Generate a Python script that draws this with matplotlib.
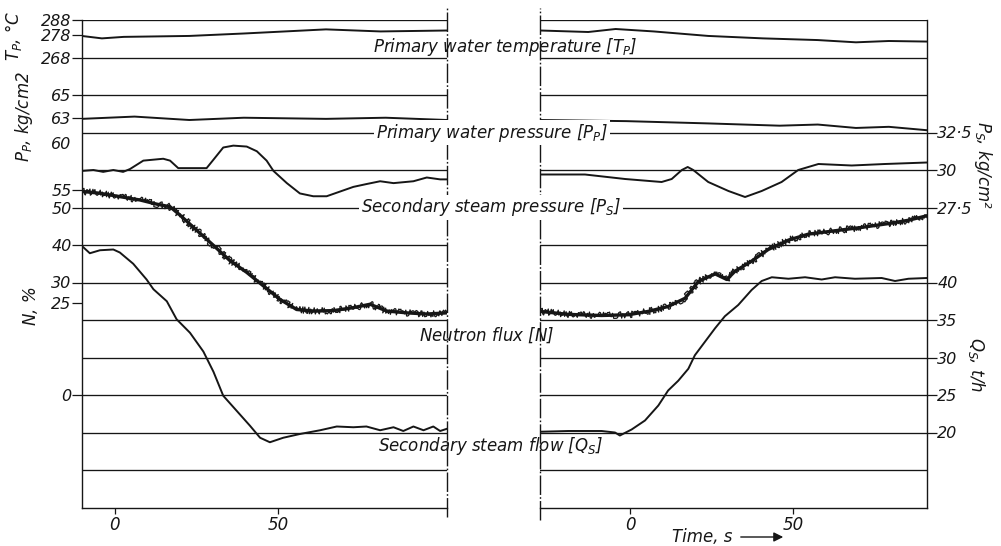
import matplotlib
matplotlib.use('Agg')
import matplotlib.pyplot as plt
from matplotlib.lines import Line2D
from matplotlib.patches import FancyArrowPatch
from matplotlib import transforms

plt.rcParams['font.family'] = ['DejaVu Sans']
plt.rcParams['mathtext.fontset'] = 'custom'
plt.rcParams['mathtext.it'] = 'DejaVu Sans:italic'
plt.rcParams['mathtext.rm'] = 'DejaVu Sans:italic'

# ---------------- data ----------------
# Left run
tp_left_t = [-10.2, -4.0, 2.7, 22.8, 39.5, 64.7, 81.4, 101.8]
tp_left = [279.5, 278.2, 279.0, 279.5, 280.8, 283.0, 281.9, 282.4]

pp_left_t = [-10.2, 6.0, 22.8, 39.5, 64.7, 83.0, 101.8]
pp_left = [62.9, 63.1, 62.8, 63.0, 62.9, 63.0, 62.8]

ps_left_t = [-10.2, -6.6, -3.6, -0.5, 2.5, 4.6, 8.7, 14.8, 16.9, 19.4, 28.1, 30.2,
             33.2, 36.3, 40.4, 43.5, 46.5, 48.6, 52.7, 56.7, 60.8, 64.9, 69.0,
             73.1, 77.1, 81.3, 85.4, 91.5, 95.6, 99.7, 101.8]
ps_left = [56.9, 57.0, 56.8, 57.0, 56.8, 57.1, 58.0, 58.2, 58.0, 57.2, 57.2, 58.1,
           59.4, 59.6, 59.5, 59.0, 58.0, 56.9, 55.6, 54.5, 54.2, 54.2, 54.7,
           55.2, 55.5, 55.8, 55.6, 55.8, 56.2, 56.0, 56.0]

n_left_t = [-10.2, -4.6, 1.5, 7.7, 12.8, 16.9, 19.9, 25.1, 30.2, 35.3, 40.4, 45.5,
            50.6, 55.7, 60.8, 67.0, 73.1, 78.2, 83.3, 89.5, 95.6, 101.8]
n_left = [54.3, 53.8, 52.9, 52.0, 50.9, 50.2, 48.0, 43.9, 39.9, 35.8, 32.7, 29.1,
          25.5, 22.8, 22.4, 22.5, 23.3, 24.2, 22.4, 21.9, 21.6, 21.9]

qs_left_t = [-10.2, -7.7, -4.6, -0.5, 1.5, 5.6, 9.7, 11.8, 15.9, 18.9, 23.0, 27.1,
             30.2, 33.2, 37.3, 41.4, 44.5, 47.5, 51.6, 56.7, 62.9, 68.0, 73.1,
             77.1, 81.3, 85.4, 88.4, 91.5, 94.6, 97.6, 99.7, 101.8]
qs_left = [44.9, 43.9, 44.3, 44.4, 44.0, 42.5, 40.4, 39.1, 37.5, 35.1, 33.3, 30.8,
           28.1, 24.9, 22.9, 20.9, 19.3, 18.7, 19.3, 19.8, 20.3, 20.8, 20.7,
           20.8, 20.3, 20.7, 20.2, 20.8, 20.3, 20.8, 20.2, 20.5]

# Right run
tp_right_t = [-27.6, -12.8, -4.4, 7.3, 24.0, 40.8, 57.6, 69.3, 79.4, 91.1]
tp_right = [282.4, 281.6, 283.2, 281.9, 279.5, 278.2, 277.3, 276.1, 276.8, 276.5]

pp_right_t = [-27.6, -1.1, 24.0, 45.9, 57.6, 69.3, 79.4, 91.1]
pp_right = [62.8, 62.7, 62.5, 62.3, 62.4, 62.1, 62.2, 61.9]

ps_right_t = [-27.6, -13.8, -1.5, 9.7, 12.8, 15.9, 17.7, 19.4, 24.0, 30.2, 35.3,
              40.4, 46.5, 51.6, 57.8, 68.0, 78.2, 91.1]
ps_right = [29.7, 29.7, 29.4, 29.2, 29.4, 30.0, 30.2, 30.0, 29.2, 28.6, 28.2,
            28.6, 29.2, 30.0, 30.4, 30.3, 30.4, 30.5]

n_right_t = [-27.6, -18.9, -8.7, -0.5, 5.6, 11.7, 16.9, 21.0, 26.1, 29.7, 32.2,
             37.3, 42.4, 48.6, 54.7, 62.9, 71.1, 79.2, 85.4, 91.1]
n_right = [22.3, 21.5, 21.2, 21.4, 22.3, 23.6, 25.8, 30.3, 32.3, 30.8, 33.0,
           35.7, 38.8, 41.3, 42.9, 43.8, 44.7, 45.7, 46.6, 47.8]

qs_right_t = [-27.6, -18.9, -8.7, -4.6, -3.1, 0.5, 4.6, 8.7, 11.7, 14.8, 17.9,
              19.9, 23.0, 26.1, 29.1, 33.2, 37.3, 40.4, 43.5, 48.6, 53.7, 58.8,
              62.9, 69.0, 77.2, 81.3, 85.4, 91.1]
qs_right = [20.1, 20.2, 20.2, 20.0, 19.6, 20.4, 21.6, 23.6, 25.6, 26.9, 28.5,
            30.3, 32.1, 33.9, 35.5, 37.0, 39.0, 40.2, 40.7, 40.5, 40.7, 40.4,
            40.7, 40.5, 40.6, 40.2, 40.5, 40.6]

left_tick_labels = ['288', '278', '268', '65', '63', '60', '55', '50', '40', '30', '25', '0']
right_tick_labels = ['32·5', '30', '27·5', '40', '35', '30', '25', '20']
x_tick_labels = ['0', '50']

# ---------------- chart scales (value -> chart row units) ----------------
def g_tp(v): return 12 + (v - 268) / 20.0
def g_pp(v): return 11 + (v - 65) / 3.3
def g_psL(v): return 8.5 + (v - 55) / 4.0
def g_psR(v): return 9 + (v - 30) / 2.5
def g_n(v): return 6 + (v - 30) / 10.0
def g_qs(v): return 2 + (v - 20) / 5.0

left_tick_pos = [13, 12.6, 12, 11, 10.4, 9.73, 8.47, 8, 7, 6, 5.45, 3]
right_tick_pos = [10, 9, 8, 6, 5, 4, 3, 2]

INK = '#161616'
W, H = 1001, 546
fig = plt.figure(figsize=(W / 100, H / 100), dpi=100)
fig.patch.set_facecolor('white')

def rect(x0, x1, y0, y1):
    return [x0 / W, 1 - y1 / H, (x1 - x0) / W, (y1 - y0) / H]

axL = fig.add_axes(rect(82, 447, 20, 507.5))
axR = fig.add_axes(rect(540, 927, 20, 507.5))
axL.set_xlim(-10.1, 101.8)
axR.set_xlim(-27.6, 91.1)

dashdot = (0, (14, 1.6, 1.2, 1.6))
tick_font = dict(fontsize=11.5, fontstyle='italic')

for ax in (axL, axR):
    ax.set_ylim(0, 13)
    for g in range(1, 14):
        ax.axhline(g, color=INK, lw=0.95, zorder=1)
    ax.spines['top'].set_visible(False)
    for s in ax.spines.values():
        s.set_color(INK)
        s.set_linewidth(1.0)
    ax.set_xticks([0, 50])
    ax.set_xticklabels(x_tick_labels, fontsize=12, fontstyle='italic')
    ax.tick_params(axis='x', direction='out', length=4.5, width=0.9, pad=1.5, colors=INK)

axL.spines['right'].set_visible(False)
axR.spines['left'].set_visible(False)
axL.add_line(Line2D([1, 1], [-0.02, 1.025], transform=axL.transAxes, clip_on=False,
                    ls=dashdot, color=INK, lw=1.0))
axR.add_line(Line2D([0, 0], [-0.025, 1.025], transform=axR.transAxes, clip_on=False,
                    ls=dashdot, color=INK, lw=1.0))

axL.set_yticks(left_tick_pos)
axL.set_yticklabels(left_tick_labels, **tick_font)
axL.tick_params(axis='y', direction='out', length=7, width=0.9, pad=0.5, colors=INK)
axL.yaxis.get_major_ticks()[5].tick1line.set_visible(False)

axR.yaxis.tick_right()
axR.set_yticks(right_tick_pos)
axR.set_yticklabels(right_tick_labels, **tick_font)
axR.tick_params(axis='y', direction='out', length=7, width=0.9, pad=0.5, colors=INK)

lw = 1.4
def trace(ax, t, v, f, noisy=False):
    y = [f(x) for x in v]
    if noisy:
        ax.plot(t, y, color=INK, lw=2.4, solid_joinstyle='round', zorder=3)
        ln, = ax.plot(t, y, color=INK, lw=0.9, zorder=3)
        ln.set_sketch_params(scale=3.2, length=0.8, randomness=1.5)
    else:
        ax.plot(t, y, color=INK, lw=lw, solid_joinstyle='round', zorder=3)

trace(axL, tp_left_t, tp_left, g_tp)
trace(axL, pp_left_t, pp_left, g_pp)
trace(axL, ps_left_t, ps_left, g_psL)
trace(axL, n_left_t, n_left, g_n, noisy=True)
trace(axL, qs_left_t, qs_left, g_qs)
trace(axR, tp_right_t, tp_right, g_tp)
trace(axR, pp_right_t, pp_right, g_pp)
trace(axR, ps_right_t, ps_right, g_psR)
trace(axR, n_right_t, n_right, g_n, noisy=True)
trace(axR, qs_right_t, qs_right, g_qs)

# rows that continue across the gap between the runs
bt = transforms.blended_transform_factory(fig.transFigure, axL.transData)
for g in (10, 8):
    fig.add_artist(Line2D([447 / W, 540 / W], [g, g], transform=bt, color=INK, lw=0.95))

lab_font = dict(fontsize=12, fontstyle='italic', color=INK, ha='center', va='center',
                transform=bt)
box = dict(facecolor='white', edgecolor='none', pad=1.2)
fig.text(505 / W, 12.28, 'Primary water temperature [$T_P$]', **lab_font)
fig.text(492 / W, 10.0, 'Primary water pressure [$P_P$]', bbox=box, **lab_font)
fig.text(491 / W, 8.0, 'Secondary steam pressure [$P_S$]', bbox=box, **lab_font)
fig.text(487 / W, 4.6, 'Neutron flux [$N$]', **lab_font)
fig.text(491 / W, 1.64, 'Secondary steam flow [$Q_S$]', **lab_font)

ax_font = dict(fontsize=12, fontstyle='italic', color=INK, ha='center', va='center')
fig.text(14 / W, 1 - 36 / H, '$T_P$, °C', rotation=90, **ax_font)
fig.text(24 / W, 1 - 117 / H, '$P_P$, kg/cm2', rotation=90, **ax_font)
fig.text(30 / W, 1 - 306 / H, '$N$, %', rotation=90, **ax_font)
fig.text(983 / W, 1 - 165 / H, '$P_S$, kg/cm²', rotation=-90, **ax_font)
fig.text(977 / W, 1 - 365 / H, '$Q_S$, t/h', rotation=-90, **ax_font)

fig.text(672 / W, 1 - 537 / H, 'Time, s', fontsize=12, fontstyle='italic', color=INK,
         ha='left', va='center')
fig.add_artist(FancyArrowPatch((738 / W, 1 - 537 / H), (786 / W, 1 - 537 / H),
                               transform=fig.transFigure, arrowstyle='-|>',
                               mutation_scale=14, lw=1.0, color=INK))

fig.savefig('out.png', dpi=100, facecolor='white')
